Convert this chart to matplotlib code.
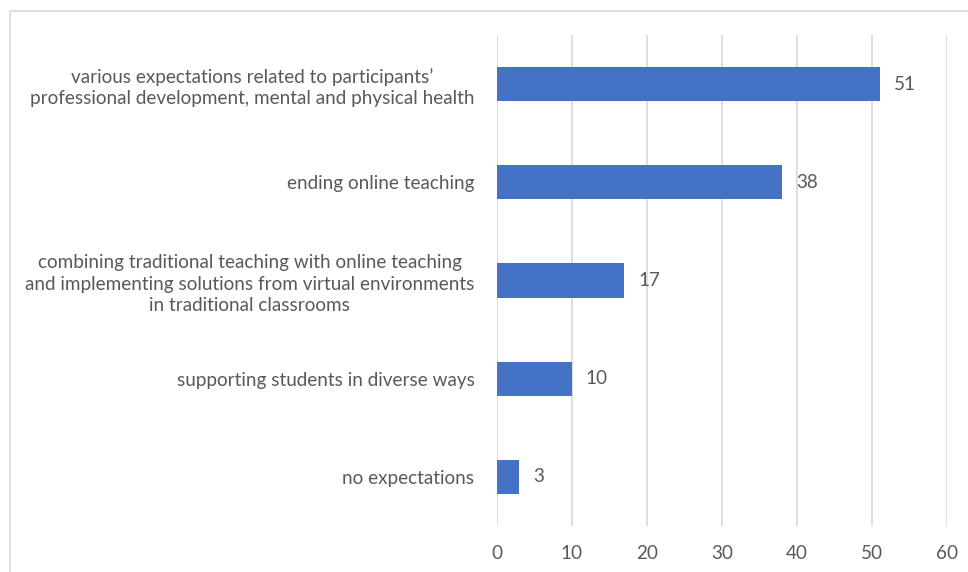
import matplotlib
matplotlib.use("Agg")
import matplotlib.pyplot as plt
from matplotlib.patches import Rectangle

# data (top to bottom as shown)
categories = [
    "various expectations related to participants\u2019\nprofessional development, mental and physical health",
    "ending online teaching",
    "combining traditional teaching with online teaching\nand implementing solutions from virtual environments\nin traditional classrooms",
    "supporting students in diverse ways",
    "no expectations",
]
values = [51, 38, 17, 10, 3]
xticks = [0, 10, 20, 30, 40, 50, 60]

bar_color = "#4472C4"
text_color = "#595959"
grid_color = "#D9D9D9"
fs = 13.6

plt.rcParams['font.family'] = ['Lato', 'DejaVu Sans']

fig = plt.figure(figsize=(9.68, 5.72), dpi=100)
ax = fig.add_axes([496.7/968, 1-526/572, (947.3-496.7)/968, (526-35)/572])

ypos = list(range(len(categories)))
ax.barh(ypos, values, height=0.35, color=bar_color, zorder=3)

for y, v in zip(ypos, values):
    ax.annotate(str(v), (v, y), xytext=(10, 0), textcoords='offset points',
                va='center', ha='left', fontsize=fs, color=text_color)

ax.set_xlim(0, 60)
ax.set_ylim(len(categories)-0.5, -0.5)
ax.set_xticks(xticks)
ax.set_yticks(ypos)
ax.set_yticklabels(categories, ha='right', multialignment='center', linespacing=1.3)
ax.tick_params(axis='y', length=0, pad=16, labelsize=fs, labelcolor=text_color)
ax.tick_params(axis='x', length=0, pad=14, labelsize=fs, labelcolor=text_color)

ax.grid(axis='x', color=grid_color, linewidth=1.2, zorder=0)
for s in ax.spines.values():
    s.set_visible(False)

# outer chart border (only left/top fall inside the crop)
fig.add_artist(Rectangle((9.5/968, -0.2), 1.2, 1.2 - 10.5/572, transform=fig.transFigure,
                         fill=False, edgecolor=grid_color, linewidth=1.2))

fig.savefig("out.png", dpi=100)
